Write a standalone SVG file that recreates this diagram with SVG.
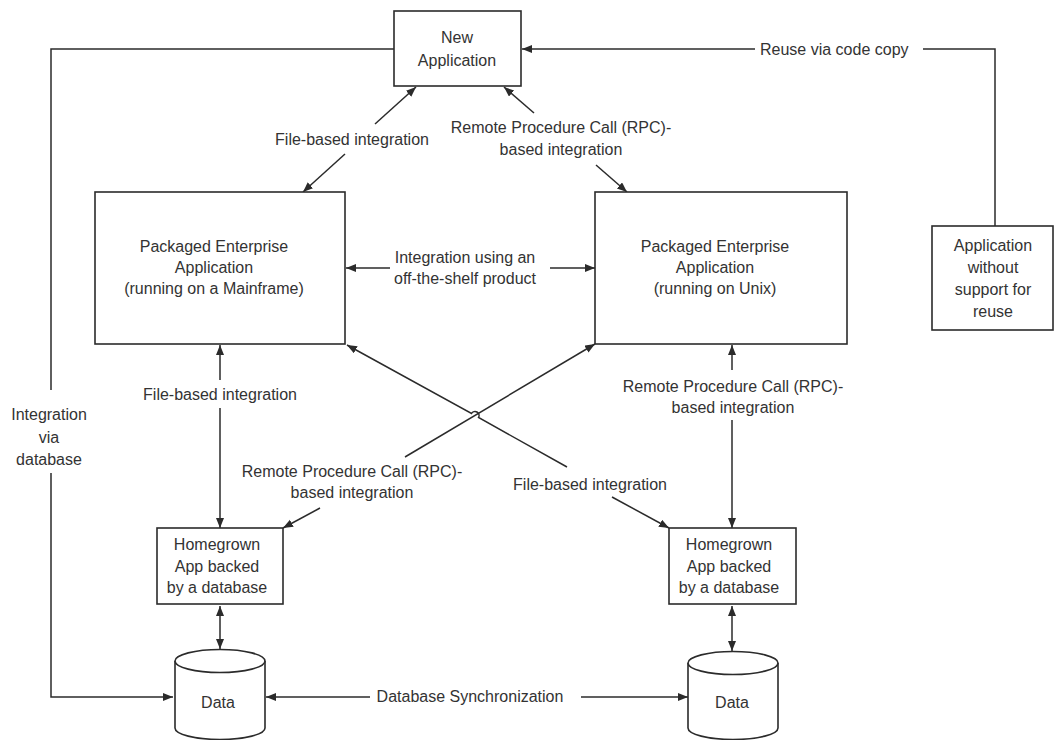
<svg xmlns="http://www.w3.org/2000/svg" width="1055" height="740" viewBox="0 0 1055 740">
  <style>
    .box { fill: #ffffff; stroke: #2b2b2b; stroke-width: 1.6; }
    .db { fill: #ffffff; stroke: #2b2b2b; stroke-width: 1.6; }
    .wire { fill: none; stroke: #2b2b2b; stroke-width: 1.5; }
    .arrow { fill: none; stroke: #2b2b2b; stroke-width: 1.5; marker-end: url(#head); }
    .both { fill: none; stroke: #2b2b2b; stroke-width: 1.5; marker-start: url(#tail); marker-end: url(#head); }
    text { font-family: "Liberation Sans", Arial, sans-serif; font-size: 16px; fill: #333333; }
    .c { text-anchor: middle; }
  </style>
  <defs>
    <marker id="head" markerUnits="userSpaceOnUse" markerWidth="12" markerHeight="10" refX="10" refY="4" orient="auto">
      <path d="M0,0 L10,4 L0,8 Z" fill="#2b2b2b"/>
    </marker>
    <marker id="tail" markerUnits="userSpaceOnUse" markerWidth="12" markerHeight="10" refX="0" refY="4" orient="auto">
      <path d="M10,0 L0,4 L10,8 Z" fill="#2b2b2b"/>
    </marker>
  </defs>
  <rect width="1055" height="740" fill="#ffffff"/>

  <!-- connectors -->
  <g id="connectors">
    <!-- integration via database -->
    <polyline class="wire" points="394,49 51,49 51,390"/>
    <polyline class="arrow" points="51,473 51,697 173,697"/>
    <!-- reuse via code copy -->
    <line class="arrow" x1="755" y1="49" x2="522" y2="49"/>
    <polyline class="wire" points="923,49 995,49 995,226"/>
    <!-- file-based: new app / mainframe -->
    <line class="arrow" x1="375" y1="124" x2="416" y2="87"/>
    <line class="arrow" x1="345" y1="154" x2="303" y2="192"/>
    <!-- rpc: new app / unix -->
    <line class="arrow" x1="534" y1="113" x2="504" y2="87"/>
    <line class="arrow" x1="596" y1="165" x2="627" y2="192"/>
    <!-- off-the-shelf product -->
    <line class="arrow" x1="390" y1="268" x2="346" y2="268"/>
    <line class="arrow" x1="550" y1="268" x2="595" y2="268"/>
    <!-- file-based: mainframe / homegrown -->
    <line class="arrow" x1="220" y1="380" x2="220" y2="345"/>
    <line class="arrow" x1="220" y1="408" x2="220" y2="528"/>
    <!-- rpc: unix / homegrown -->
    <line class="arrow" x1="732" y1="370" x2="732" y2="345"/>
    <line class="arrow" x1="732" y1="420" x2="732" y2="528"/>
    <!-- crossing: file-based mainframe / right homegrown -->
    <path class="wire" d="M567,467 L478.5,417.5 A4,4 0 0 0 471.5,413.5 L347,345" marker-end="url(#head)"/>
    <line class="arrow" x1="612" y1="497" x2="669" y2="528"/>
    <!-- crossing: rpc unix / left homegrown -->
    <line class="arrow" x1="405" y1="457" x2="595" y2="344"/>
    <line class="arrow" x1="320" y1="508" x2="283" y2="528"/>
    <!-- homegrown to data -->
    <line class="both" x1="220" y1="606" x2="220" y2="649"/>
    <line class="both" x1="732" y1="606" x2="732" y2="651"/>
    <!-- database synchronization -->
    <line class="arrow" x1="370" y1="697" x2="266" y2="697"/>
    <line class="arrow" x1="581" y1="697" x2="688" y2="697"/>
  </g>

  <!-- connector labels -->
  <g id="labels">
    <text class="c" x="352" y="145">File-based integration</text>
    <text class="c" x="561" y="133">Remote Procedure Call (RPC)-</text>
    <text class="c" x="561" y="155">based integration</text>
    <text x="760" y="55">Reuse via code copy</text>
    <text class="c" x="465" y="263">Integration using an</text>
    <text class="c" x="465" y="284">off-the-shelf product</text>
    <text class="c" x="220" y="400">File-based integration</text>
    <text class="c" x="733" y="392">Remote Procedure Call (RPC)-</text>
    <text class="c" x="733" y="413">based integration</text>
    <text class="c" x="49" y="420">Integration</text>
    <text class="c" x="49" y="443">via</text>
    <text class="c" x="49" y="465">database</text>
    <text class="c" x="352" y="477">Remote Procedure Call (RPC)-</text>
    <text class="c" x="352" y="498">based integration</text>
    <text class="c" x="590" y="490">File-based integration</text>
    <text class="c" x="470" y="702">Database Synchronization</text>
  </g>

  <g id="new-application">
    <rect class="box" x="394" y="11" width="127" height="75"/>
    <text class="c" x="457" y="43">New</text>
    <text class="c" x="457" y="66">Application</text>
  </g>

  <g id="mainframe-app">
    <rect class="box" x="95" y="192" width="250" height="152"/>
    <text class="c" x="214" y="252">Packaged Enterprise</text>
    <text class="c" x="214" y="273">Application</text>
    <text class="c" x="214" y="294">(running on a Mainframe)</text>
  </g>

  <g id="unix-app">
    <rect class="box" x="595" y="192" width="252" height="152"/>
    <text class="c" x="715" y="252">Packaged Enterprise</text>
    <text class="c" x="715" y="273">Application</text>
    <text class="c" x="715" y="294">(running on Unix)</text>
  </g>

  <g id="no-reuse-app">
    <rect class="box" x="932" y="226" width="121" height="104"/>
    <text class="c" x="993" y="251">Application</text>
    <text class="c" x="993" y="273">without</text>
    <text class="c" x="993" y="295">support for</text>
    <text class="c" x="993" y="317">reuse</text>
  </g>

  <g id="homegrown-left">
    <rect class="box" x="157" y="528" width="126" height="76"/>
    <text class="c" x="217" y="550">Homegrown</text>
    <text class="c" x="217" y="572">App backed</text>
    <text class="c" x="217" y="593">by a database</text>
  </g>

  <g id="homegrown-right">
    <rect class="box" x="669" y="528" width="127" height="76"/>
    <text class="c" x="729" y="550">Homegrown</text>
    <text class="c" x="729" y="572">App backed</text>
    <text class="c" x="729" y="593">by a database</text>
  </g>

  <g id="data-left">
    <path class="db" d="M175,661 L175,728 A45,11.5 0 0 0 265,728 L265,661"/>
    <ellipse class="db" cx="220" cy="661" rx="45" ry="11.5"/>
    <text class="c" x="218" y="708">Data</text>
  </g>

  <g id="data-right">
    <path class="db" d="M688,663 L688,728 A45,11.5 0 0 0 778,728 L778,663"/>
    <ellipse class="db" cx="733" cy="663" rx="45" ry="11.5"/>
    <text class="c" x="732" y="708">Data</text>
  </g>
</svg>
